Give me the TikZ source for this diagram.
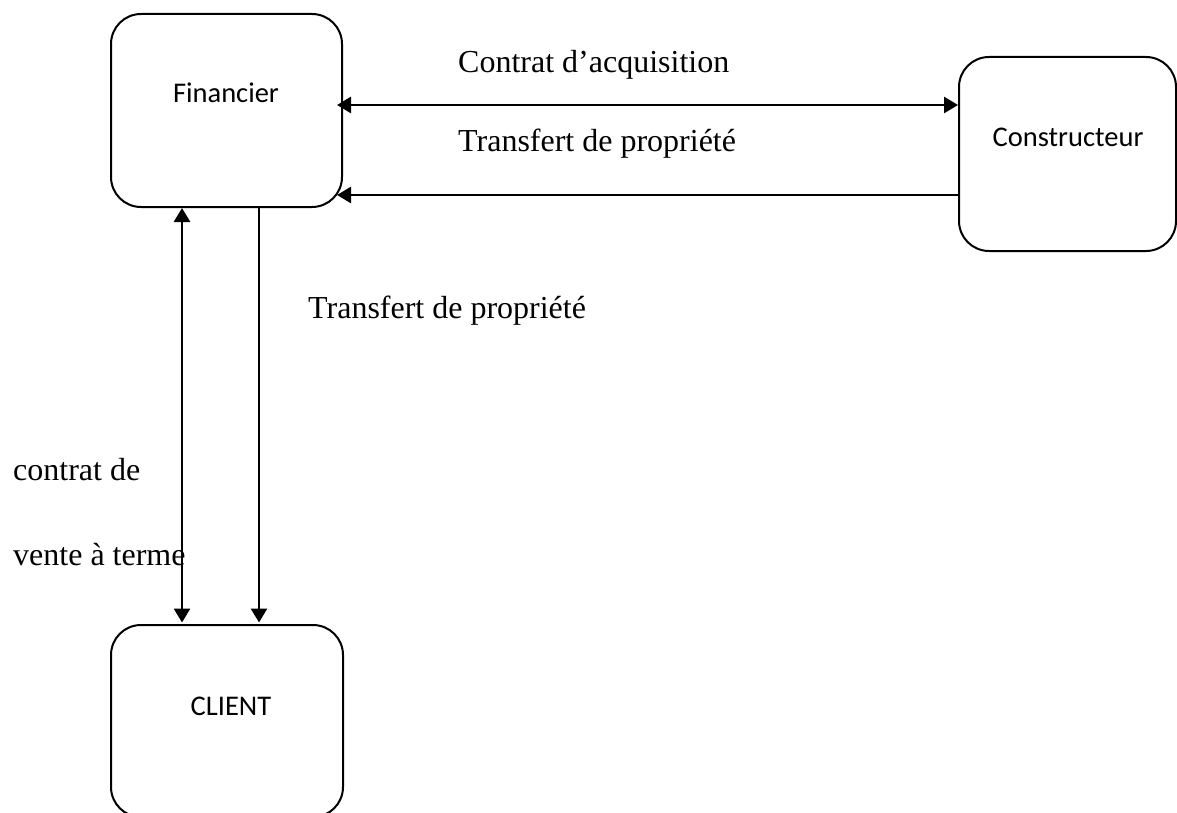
\documentclass[tikz,border=0pt]{standalone}
\usepackage{fontspec}
\setmainfont{Liberation Serif}
\newfontfamily\boxfont{Carlito}
\usetikzlibrary{arrows.meta}
\begin{document}
\begin{tikzpicture}[x=1pt,y=-1pt,
  entity/.style={draw=black,line width=2pt,rounded corners=30pt,inner sep=0pt},
  boxlabel/.style={anchor=base,inner sep=0pt,font=\boxfont\fontsize{28.5}{34}\selectfont},
  flowlabel/.style={anchor=base west,inner sep=0pt,font=\fontsize{32}{38}\selectfont},
  link/.style={line width=2.6pt,-{Triangle[length=14pt,width=16pt]}},
  dlink/.style={line width=2.6pt,{Triangle[length=14pt,width=16pt]}-{Triangle[length=14pt,width=16pt]}}]
\useasboundingbox (0,0) rectangle (1177,813);
% boxes
\node[entity,minimum width=231pt,minimum height=193pt] (fin) at (226.5,110.5) {};
\node[entity,minimum width=217pt,minimum height=194pt] (con) at (1067.5,154) {};
\node[entity,minimum width=232pt,minimum height=192pt] (cli) at (227,721) {};
% box texts
\node[boxlabel] (finT) at (226,103) {Financier};
\node[boxlabel] (conT) at (1068,147) {Constructeur};
\node[boxlabel] (cliT) at (231,715) {CLIENT};
% helper coordinates
\coordinate (yA) at (0,105);
\coordinate (yB) at (0,195);
\coordinate (xA) at (182,0);
\coordinate (xB) at (259,0);
% connectors
\draw[dlink] ([xshift=-6pt]fin.east |- yA) -- (con.west |- yA);
\draw[link] (con.west |- yB) -- ([xshift=-6pt]fin.east |- yB);
\draw[dlink] (fin.south -| xA) -- ([yshift=1.5pt]cli.north -| xA);
\draw[link] (fin.south -| xB) -- ([yshift=1.5pt]cli.north -| xB);
% labels
\node[flowlabel] (l1) at (458,73) {Contrat d’acquisition};
\node[flowlabel] (l2) at (458,152) {Transfert de propriété};
\node[flowlabel] (l3) at (308,318) {Transfert de propriété};
\node[flowlabel] (l4) at (13,480) {contrat de};
\node[flowlabel] (l5) at (13,565) {vente à terme};
\end{tikzpicture}
\end{document}
